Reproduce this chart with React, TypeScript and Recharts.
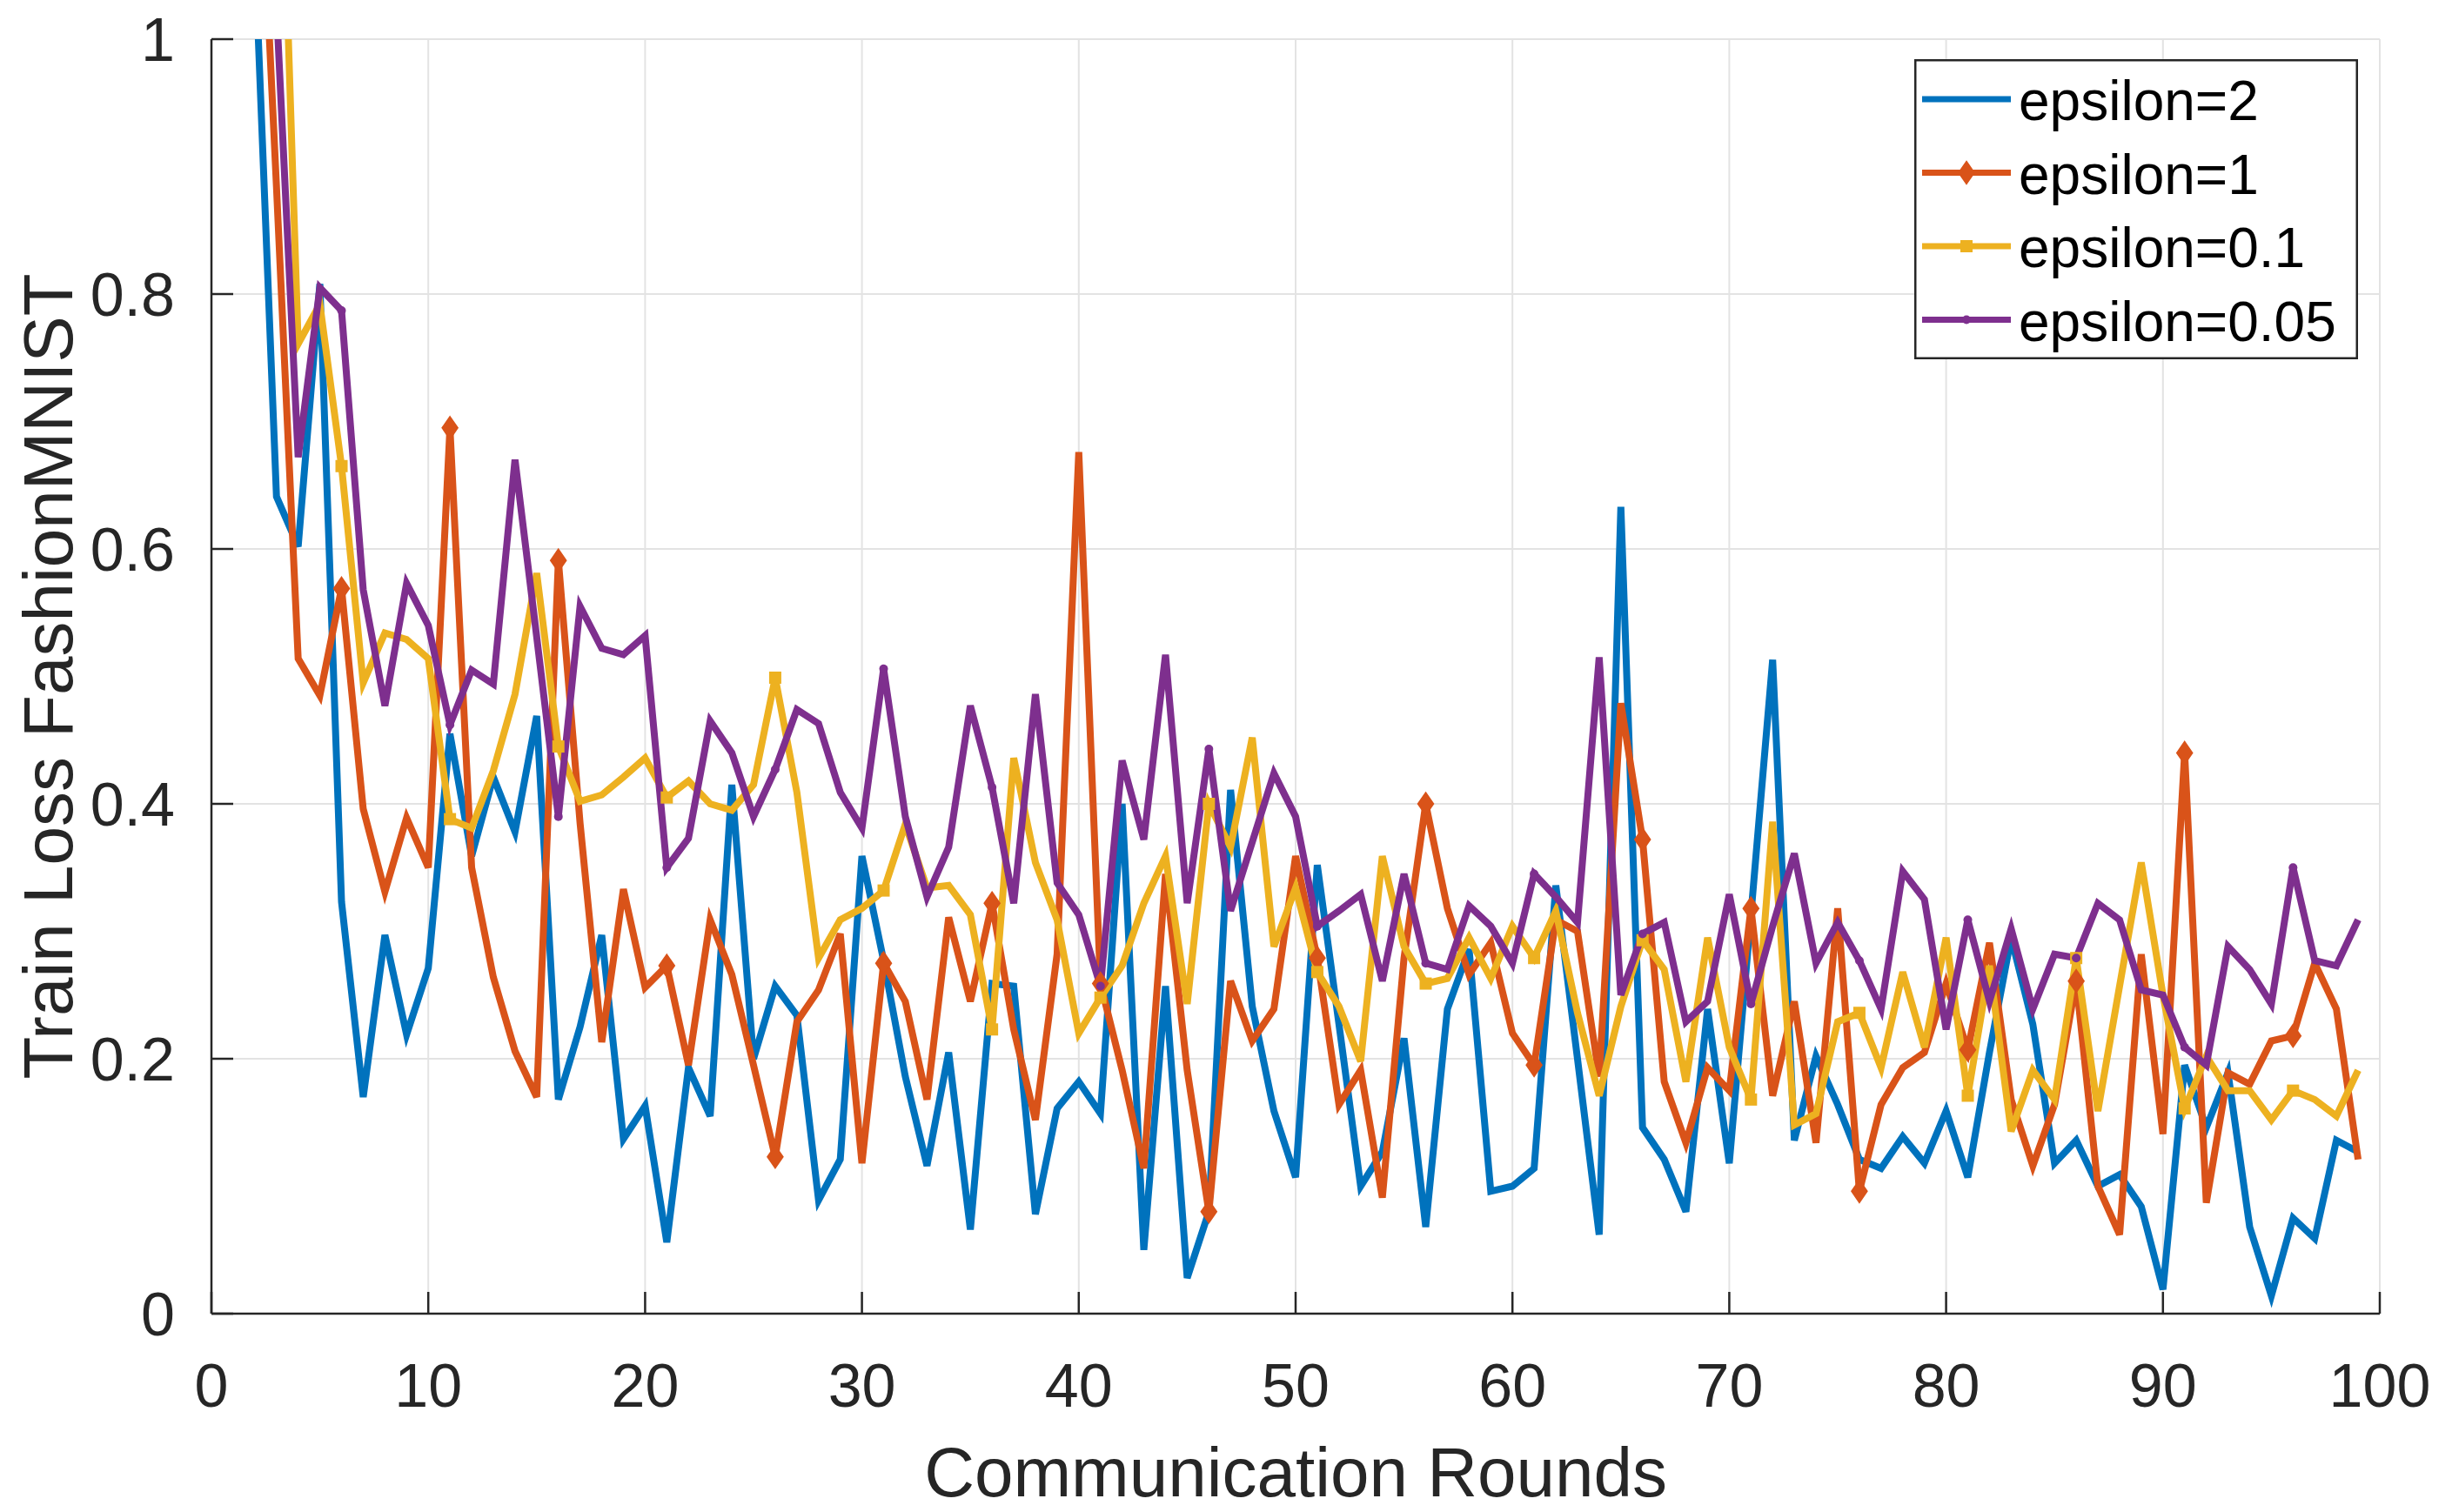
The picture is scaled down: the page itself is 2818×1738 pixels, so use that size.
import { LineChart, Line, XAxis, YAxis, CartesianGrid, Legend, Label } from "recharts";

// train loss per communication round (round 1..99)
const eps2 = [
  2.1, 1.07, 0.641, 0.602, 0.808, 0.323, 0.17, 0.297, 0.219, 0.271,
  0.455, 0.359, 0.421, 0.378, 0.469, 0.168, 0.225, 0.297, 0.137, 0.163,
  0.056, 0.193, 0.155, 0.415, 0.2, 0.257, 0.234, 0.089, 0.121, 0.359,
  0.277, 0.186, 0.116, 0.205, 0.066, 0.259, 0.257, 0.078, 0.161, 0.182,
  0.157, 0.4, 0.05, 0.257, 0.028, 0.08, 0.411, 0.241, 0.159, 0.107,
  0.352, 0.227, 0.1, 0.127, 0.216, 0.068, 0.239, 0.286, 0.096, 0.1,
  0.114, 0.336, 0.2, 0.062, 0.633, 0.146, 0.121, 0.08, 0.239, 0.118,
  0.313, 0.513, 0.136, 0.202, 0.164, 0.121, 0.114, 0.139, 0.118, 0.159,
  0.107, 0.205, 0.295, 0.227, 0.118, 0.136, 0.1, 0.109, 0.084, 0.019,
  0.195, 0.146, 0.189, 0.068, 0.014, 0.075, 0.059, 0.136, 0.127,
];

const eps1 = [
  2.3, 1.24, 0.884, 0.514, 0.485, 0.569, 0.396, 0.331, 0.389, 0.35,
  0.695, 0.35, 0.264, 0.206, 0.17, 0.591, 0.385, 0.213, 0.333, 0.256,
  0.273, 0.195, 0.309, 0.266, 0.195, 0.123, 0.229, 0.254, 0.298, 0.118,
  0.275, 0.245, 0.168, 0.311, 0.245, 0.322, 0.223, 0.152, 0.282, 0.676,
  0.259, 0.191, 0.114, 0.345, 0.191, 0.08, 0.261, 0.214, 0.239, 0.359,
  0.279, 0.164, 0.191, 0.091, 0.279, 0.4, 0.318, 0.266, 0.291, 0.22,
  0.195, 0.309, 0.3, 0.186, 0.479, 0.372, 0.182, 0.134, 0.193, 0.175,
  0.318, 0.171, 0.245, 0.134, 0.318, 0.096, 0.164, 0.193, 0.205, 0.259,
  0.207, 0.291, 0.168, 0.116, 0.164, 0.261, 0.1, 0.062, 0.282, 0.141,
  0.44, 0.087, 0.189, 0.18, 0.214, 0.218, 0.275, 0.239, 0.121,
];

const eps01 = [
  2.5, 1.8, 1.29, 0.761, 0.792, 0.665, 0.495, 0.534, 0.529, 0.514,
  0.388, 0.381, 0.426, 0.486, 0.581, 0.445, 0.402, 0.407, 0.421, 0.436,
  0.405, 0.418, 0.4, 0.395, 0.415, 0.499, 0.409, 0.279, 0.309, 0.318,
  0.332, 0.384, 0.334, 0.336, 0.313, 0.223, 0.436, 0.354, 0.309, 0.22,
  0.248, 0.273, 0.322, 0.359, 0.243, 0.4, 0.366, 0.452, 0.288, 0.334,
  0.268, 0.241, 0.198, 0.359, 0.288, 0.259, 0.263, 0.295, 0.263, 0.304,
  0.279, 0.316, 0.236, 0.171, 0.241, 0.293, 0.27, 0.182, 0.295, 0.209,
  0.168, 0.386, 0.148, 0.157, 0.229, 0.236, 0.193, 0.268, 0.209, 0.295,
  0.171, 0.273, 0.143, 0.191, 0.168, 0.279, 0.159, 0.257, 0.354, 0.25,
  0.161, 0.202, 0.175, 0.175, 0.152, 0.175, 0.168, 0.155, 0.191,
];

const eps005 = [
  2.2, 1.5, 1.025, 0.672, 0.805, 0.787, 0.568, 0.477, 0.573, 0.54,
  0.462, 0.505, 0.494, 0.67, 0.531, 0.39, 0.555, 0.522, 0.517, 0.532,
  0.35, 0.373, 0.465, 0.44, 0.39, 0.427, 0.474, 0.463, 0.409, 0.381,
  0.506, 0.39, 0.327, 0.366, 0.477, 0.413, 0.322, 0.486, 0.338, 0.313,
  0.257, 0.434, 0.372, 0.517, 0.322, 0.443, 0.316, 0.37, 0.424, 0.39,
  0.304, 0.316, 0.329, 0.261, 0.345, 0.275, 0.27, 0.32, 0.304, 0.275,
  0.345, 0.327, 0.307, 0.515, 0.25, 0.298, 0.307, 0.229, 0.245, 0.329,
  0.243, 0.304, 0.361, 0.275, 0.307, 0.277, 0.239, 0.347, 0.325, 0.223,
  0.309, 0.245, 0.302, 0.239, 0.282, 0.279, 0.322, 0.309, 0.254, 0.25,
  0.209, 0.195, 0.288, 0.27, 0.243, 0.35, 0.277, 0.273, 0.309,
];

const rounds = eps2.map((_, i) => i + 1);

const xTicks = [0, 10, 20, 30, 40, 50, 60, 70, 80, 90, 100];
const yTicks = [0, 0.2, 0.4, 0.6, 0.8, 1];
const yTickLabels = ["0", "0.2", "0.4", "0.6", "0.8", "1"];
const seriesNames = ["epsilon=2", "epsilon=1", "epsilon=0.1", "epsilon=0.05"];

const SERIES = [
  { key: "eps2", name: seriesNames[0], color: "#0072BD", marker: "none" },
  { key: "eps1", name: seriesNames[1], color: "#D95319", marker: "diamond" },
  { key: "eps01", name: seriesNames[2], color: "#EDB120", marker: "square" },
  { key: "eps005", name: seriesNames[3], color: "#7E2F8E", marker: "dot" },
];

const data = rounds.map((round, i) => ({
  round,
  eps2: eps2[i],
  eps1: eps1[i],
  eps01: eps01[i],
  eps005: eps005[i],
}));

const FONT = "'Liberation Sans', Arial, Helvetica, sans-serif";
const AXIS = "#262626";
const TICK_LEN = 25;
const LINE_W = 8;

function Marker({ type, x, y, color }: { type: string; x: number; y: number; color: string }) {
  if (type === "diamond")
    return (
      <polygon
        points={`${x},${y - 13} ${x + 9},${y} ${x},${y + 13} ${x - 9},${y}`}
        fill={color}
        stroke={color}
        strokeWidth={1.5}
      />
    );
  if (type === "square") return <rect x={x - 7} y={y - 7} width={14} height={14} fill={color} />;
  if (type === "dot") return <circle cx={x} cy={y} r={5} fill={color} />;
  return null;
}

// MATLAB MarkerIndices 1:5:end
const makeDot = (s: (typeof SERIES)[number]) => (props: any) => {
  const { cx, cy, index } = props;
  if (index % 5 !== 0 || cx == null || cy == null) return <g key={`${s.key}-${index}`} />;
  return (
    <g key={`${s.key}-${index}`}>
      <Marker type={s.marker} x={cx} y={cy} color={s.color} />
    </g>
  );
};

function BottomTick(props: any) {
  const { x, y, payload } = props;
  return (
    <g>
      <line x1={x} y1={y} x2={x} y2={y - TICK_LEN} stroke={AXIS} strokeWidth={2.5} />
      <text x={x} y={y + 107} textAnchor="middle" fontSize={70} fontFamily={FONT} fill={AXIS}>
        {payload.value}
      </text>
    </g>
  );
}

function LeftTick(props: any) {
  const { x, y, payload, index } = props;
  return (
    <g>
      <line x1={x} y1={y} x2={x + TICK_LEN} y2={y} stroke={AXIS} strokeWidth={2.5} />
      <text x={x - 42} y={y} dy="0.36em" textAnchor="end" fontSize={70} fontFamily={FONT} fill={AXIS}>
        {yTickLabels[index] ?? payload.value}
      </text>
    </g>
  );
}

function TopTick(props: any) {
  const { x, y } = props;
  return <line x1={x} y1={y} x2={x} y2={y + TICK_LEN} stroke={AXIS} strokeWidth={2.5} />;
}

function RightTick(props: any) {
  const { x, y } = props;
  return <line x1={x} y1={y} x2={x - TICK_LEN} y2={y} stroke={AXIS} strokeWidth={2.5} />;
}

function LegendBox() {
  return (
    <svg width={510} height={345} style={{ display: "block" }}>
      <rect x={1.25} y={1.25} width={507.5} height={342.5} fill="#fff" stroke={AXIS} strokeWidth={2.5} />
      {SERIES.map((s, i) => {
        const y = 46 + i * 84.5;
        return (
          <g key={s.key}>
            <line x1={9} x2={111} y1={y} y2={y} stroke={s.color} strokeWidth={7} />
            <Marker type={s.marker} x={60} y={y} color={s.color} />
            <text x={120} y={y + 24} fontSize={64} fontFamily={FONT} fill="#000">
              {s.name}
            </text>
          </g>
        );
      })}
    </svg>
  );
}

export default function App() {
  return (
    <LineChart width={2800} height={1729} data={data} margin={{ top: 37, right: 73, bottom: 9, left: 0 }}>
      <CartesianGrid stroke="#e3e3e3" strokeWidth={2} />
      <XAxis
        dataKey="round"
        type="number"
        domain={[0, 100]}
        ticks={xTicks}
        allowDataOverflow
        height={218}
        tickSize={0}
        tickMargin={0}
        tickLine={false}
        tick={BottomTick}
        axisLine={{ stroke: AXIS, strokeWidth: 2.5 }}
      >
        <Label
          content={({ viewBox }: any) => (
            <text
              x={viewBox.x + viewBox.width / 2}
              y={viewBox.y + 210}
              textAnchor="middle"
              fontSize={80}
              fontFamily={FONT}
              fill={AXIS}
            >
              Communication Rounds
            </text>
          )}
        />
      </XAxis>
      <XAxis
        xAxisId="top"
        orientation="top"
        type="number"
        domain={[0, 100]}
        ticks={xTicks}
        allowDataOverflow
        height={0}
        tickSize={0}
        tickMargin={0}
        tickLine={false}
        tick={TopTick}
        axisLine={{ stroke: AXIS, strokeWidth: 2.5 }}
      />
      <YAxis
        type="number"
        domain={[0, 1]}
        ticks={yTicks}
        allowDataOverflow
        width={235}
        tickSize={0}
        tickMargin={0}
        tickLine={false}
        tick={LeftTick}
        axisLine={{ stroke: AXIS, strokeWidth: 2.5 }}
      >
        <Label
          content={({ viewBox }: any) => {
            const cx = viewBox.x + 75;
            const cy = viewBox.y + viewBox.height / 2;
            return (
              <text
                x={cx}
                y={cy}
                transform={`rotate(-90, ${cx}, ${cy})`}
                textAnchor="middle"
                fontSize={80}
                fontFamily={FONT}
                fill={AXIS}
              >
                Train Loss FashionMNIST
              </text>
            );
          }}
        />
      </YAxis>
      <YAxis
        yAxisId="right"
        orientation="right"
        type="number"
        domain={[0, 1]}
        ticks={yTicks}
        allowDataOverflow
        width={0}
        tickSize={0}
        tickMargin={0}
        tickLine={false}
        tick={RightTick}
        axisLine={{ stroke: AXIS, strokeWidth: 2.5 }}
      />
      {SERIES.map((s) => (
        <Line
          key={s.key}
          type="linear"
          dataKey={s.key}
          name={s.name}
          stroke={s.color}
          strokeWidth={LINE_W}
          strokeLinejoin="miter"
          dot={s.marker === "none" ? false : makeDot(s)}
          activeDot={false}
          isAnimationActive={false}
        />
      ))}
      <Legend
        layout="horizontal"
        verticalAlign="middle"
        align="center"
        wrapperStyle={{ position: "absolute", left: 2192, top: 60, width: 510, height: 345 }}
        content={() => <LegendBox />}
      />
    </LineChart>
  );
}
